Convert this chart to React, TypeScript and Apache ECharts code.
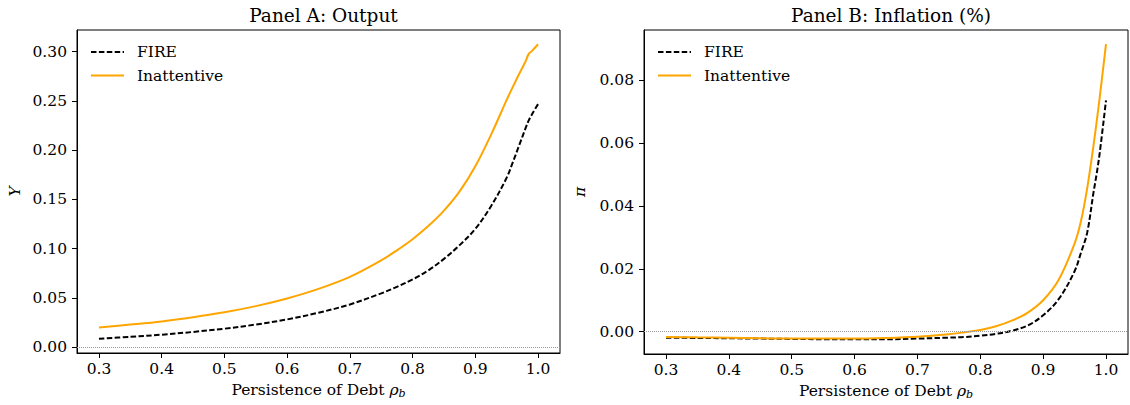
import React, { useEffect, useRef } from "react";
import * as echarts from "echarts";

const rho = [0.3, 0.35, 0.4, 0.45, 0.5, 0.55, 0.6, 0.65, 0.7, 0.75, 0.775, 0.8, 0.825, 0.85, 0.875, 0.9, 0.925, 0.95, 0.96, 0.97, 0.98, 0.985, 0.99, 1.0];

const outputFire = [0.0084, 0.0103, 0.0125, 0.0153, 0.0186, 0.0228, 0.028, 0.0348, 0.0432, 0.0545, 0.0611, 0.0686, 0.0778, 0.0895, 0.1035, 0.12, 0.143, 0.172, 0.188, 0.205, 0.222, 0.23, 0.236, 0.2467];
const outputInatt = [0.0199, 0.0228, 0.026, 0.0302, 0.0352, 0.0415, 0.0493, 0.059, 0.0712, 0.088, 0.0982, 0.1095, 0.1228, 0.1385, 0.158, 0.1835, 0.2155, 0.251, 0.2645, 0.2775, 0.29, 0.2975, 0.3005, 0.3075];

const inflFire = [-0.0019, -0.002, -0.0021, -0.0022, -0.0023, -0.0024, -0.0024, -0.0024, -0.0022, -0.0019, -0.0017, -0.0013, -0.0007, 0.0003, 0.0019, 0.0052, 0.0104, 0.0192, 0.025, 0.0314, 0.0441, 0.05, 0.0568, 0.0735];
const inflInatt = [-0.0017, -0.0018, -0.0019, -0.0021, -0.0022, -0.0022, -0.0022, -0.002, -0.0016, -0.0008, -0.0002, 0.0005, 0.0017, 0.0035, 0.006, 0.01, 0.0166, 0.028, 0.035, 0.0455, 0.059, 0.0665, 0.0745, 0.0914];

const xTicks = [0.3, 0.4, 0.5, 0.6, 0.7, 0.8, 0.9, 1.0];
const yTicksA = [0, 0.05, 0.1, 0.15, 0.2, 0.25, 0.3];
const yTicksB = [0, 0.02, 0.04, 0.06, 0.08];
const legendNames = ["FIRE", "Inattentive"];

const FONT = "DejaVu Serif";
const ORANGE = "#FFA500";
const FIRE_DASH = [5.5, 2.4];

const pair = (ys: number[]) => rho.map((x, i) => [x, ys[i]]);

export default function App() {
  const ref = useRef<HTMLDivElement>(null);
  useEffect(() => {
    if (!ref.current) return;
    const chart = echarts.init(ref.current, undefined, { renderer: "svg" });

    const xAxisCommon = (gridIndex: number) => ({
      type: "value",
      gridIndex,
      min: 0.265,
      max: 1.035,
      name: "Persistence of Debt {i|ρ}{s|b}",
      nameLocation: "middle",
      nameGap: 28,
      nameTextStyle: {
        fontFamily: FONT,
        fontSize: 15.5,
        color: "#000",
        rich: {
          i: { fontFamily: FONT, fontStyle: "italic", fontSize: 15.5, color: "#000" },
          s: { fontFamily: FONT, fontStyle: "italic", fontSize: 11, color: "#000", verticalAlign: "bottom", padding: [7, 0, 0, 0] },
        },
      },
      axisLine: { show: true, onZero: false, lineStyle: { color: "#000", width: 1 } },
      axisTick: { show: true, length: 5, lineStyle: { color: "#000" }, customValues: xTicks },
      axisLabel: {
        fontFamily: FONT,
        fontSize: 15.5,
        color: "#000",
        margin: 8,
        customValues: xTicks,
        formatter: (v: number) => v.toFixed(1),
      },
      splitLine: { show: false },
    });

    const yAxisCommon = (gridIndex: number, min: number, max: number, ticks: number[], name: string, gap: number) => ({
      type: "value",
      gridIndex,
      min,
      max,
      name,
      nameLocation: "middle",
      nameGap: gap,
      nameRotate: 90,
      nameTextStyle: { fontFamily: FONT, fontSize: 15.5, fontStyle: "italic", color: "#000" },
      axisLine: { show: true, onZero: false, lineStyle: { color: "#000", width: 1 } },
      axisTick: { show: true, length: 5, lineStyle: { color: "#000" }, customValues: ticks },
      axisLabel: {
        fontFamily: FONT,
        fontSize: 15.5,
        color: "#000",
        margin: 10,
        customValues: ticks,
        formatter: (v: number) => v.toFixed(2),
      },
      splitLine: { show: false },
    });

    const zeroLine = {
      silent: true,
      symbol: "none",
      label: { show: false },
      lineStyle: { type: "dotted", color: "#999", width: 1 },
      data: [{ yAxis: 0 }],
    };

    const fireStyle = { color: "#000", width: 2, type: FIRE_DASH };
    const inattStyle = { color: ORANGE, width: 2, type: "solid" };

    const legendGraphic = (left: number) => {
      const rows = [
        { y: 52, color: "#000", dash: FIRE_DASH },
        { y: 75.5, color: ORANGE, dash: null },
      ];
      const children: any[] = [];
      rows.forEach((r, i) => {
        children.push({
          type: "line",
          shape: { x1: left, y1: r.y, x2: left + 33, y2: r.y },
          style: { stroke: r.color, lineWidth: 2, lineDash: r.dash || undefined },
          silent: true,
        });
        children.push({
          type: "text",
          x: left + 46,
          y: r.y,
          style: {
            text: legendNames[i],
            font: `15.5px '${FONT}'`,
            fill: "#000",
            textVerticalAlign: "middle",
            verticalAlign: "middle",
          },
          silent: true,
        });
      });
      return { type: "group", children };
    };

    chart.setOption({
      animation: false,
      backgroundColor: "#fff",
      title: [
        {
          text: "Panel A: Output",
          left: 318.5,
          top: 1,
          textAlign: "center",
          textStyle: { fontFamily: FONT, fontSize: 18.5, fontWeight: "normal", color: "#000" },
        },
        {
          text: "Panel B: Inflation (%)",
          left: 886,
          top: 1,
          textAlign: "center",
          textStyle: { fontFamily: FONT, fontSize: 18.5, fontWeight: "normal", color: "#000" },
        },
      ],
      graphic: [legendGraphic(91), legendGraphic(658)],
      grid: [
        { left: 77, top: 30, width: 483, height: 323, show: true, borderColor: "#000", borderWidth: 1, containLabel: false },
        { left: 644, top: 30, width: 484, height: 324, show: true, borderColor: "#000", borderWidth: 1, containLabel: false },
      ],
      xAxis: [xAxisCommon(0), xAxisCommon(1)],
      yAxis: [
        yAxisCommon(0, -0.0061, 0.322, yTicksA, "Y", 54),
        yAxisCommon(1, -0.0071, 0.0959, yTicksB, "π", 56),
      ],
      series: [
        {
          name: "FIRE",
          type: "line",
          xAxisIndex: 0,
          yAxisIndex: 0,
          data: pair(outputFire),
          showSymbol: false,
          symbol: "none",
          smooth: 0.35,
          lineStyle: fireStyle,
          itemStyle: { color: "#000" },
          markLine: zeroLine,
          z: 3,
        },
        {
          name: "Inattentive",
          type: "line",
          xAxisIndex: 0,
          yAxisIndex: 0,
          data: pair(outputInatt),
          showSymbol: false,
          symbol: "none",
          smooth: 0.35,
          lineStyle: inattStyle,
          itemStyle: { color: ORANGE },
          z: 3,
        },
        {
          name: "FIRE",
          type: "line",
          xAxisIndex: 1,
          yAxisIndex: 1,
          data: pair(inflFire),
          showSymbol: false,
          symbol: "none",
          smooth: 0.35,
          lineStyle: fireStyle,
          itemStyle: { color: "#000" },
          markLine: zeroLine,
          z: 3,
        },
        {
          name: "Inattentive",
          type: "line",
          xAxisIndex: 1,
          yAxisIndex: 1,
          data: pair(inflInatt),
          showSymbol: false,
          symbol: "none",
          smooth: 0.35,
          lineStyle: inattStyle,
          itemStyle: { color: ORANGE },
          z: 3,
        },
      ],
    });
    return () => chart.dispose();
  }, []);

  return (
    <div
      ref={ref}
      style={{ position: "fixed", left: 0, top: 0, width: 1130, height: 405, background: "#fff" }}
    />
  );
}
